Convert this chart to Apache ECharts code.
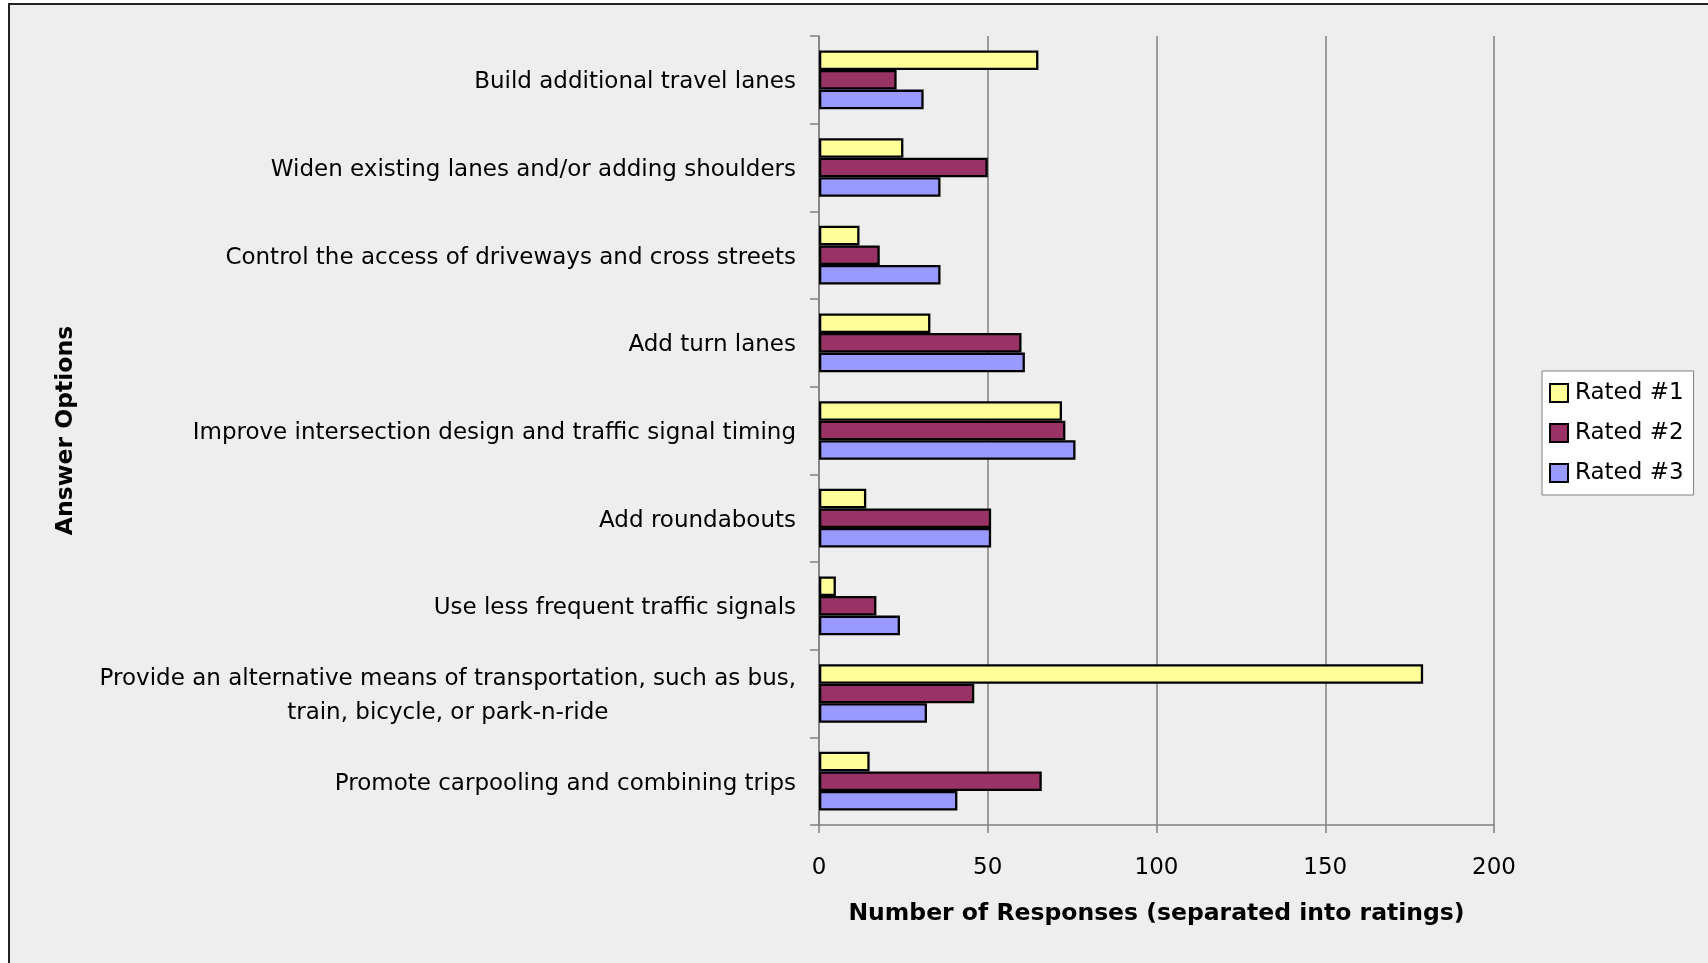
<!DOCTYPE html>
<html>
<head>
<meta charset="utf-8">
<script src="https://cdn.jsdelivr.net/npm/echarts@6/dist/echarts.min.js"></script>
<style>
  html, body { margin: 0; padding: 0; background: #fff; }
  #chart-container { width: 1708px; height: 963px; }
</style>
</head>
<body>
<div id="chart-container"></div>
<script>
// answer options, top to bottom
var categories = [
  "Build additional travel lanes",
  "Widen existing lanes and/or adding shoulders",
  "Control the access of driveways and cross streets",
  "Add turn lanes",
  "Improve intersection design and traffic signal timing",
  "Add roundabouts",
  "Use less frequent traffic signals",
  "Provide an alternative means of transportation, such as bus,\ntrain, bicycle, or park-n-ride",
  "Promote carpooling and combining trips"
];
var rated1 = [65, 25, 12, 33, 72, 14, 5, 179, 15];
var rated2 = [23, 50, 18, 60, 73, 51, 17, 46, 66];
var rated3 = [31, 36, 36, 61, 76, 51, 24, 32, 41];
var seriesNames = ["Rated #1", "Rated #2", "Rated #3"];
var xTicks = [0, 50, 100, 150, 200];

var font = "'DejaVu Sans', sans-serif";

var dom = document.getElementById("chart-container");
var myChart = echarts.init(dom, null, { renderer: "canvas" });

function barSeries(name, values, color) {
  return {
    name: name,
    type: "bar",
    data: values,
    barGap: "0%",
    barCategoryGap: "33%",
    itemStyle: { color: color, borderColor: "#000", borderWidth: 2.3 }
  };
}

var option = {
  backgroundColor: "#ffffff",
  animation: false,
  textStyle: { fontFamily: font },
  graphic: [
    {
      type: "rect",
      z: -100,
      shape: { x: 9, y: 4, width: 1720, height: 990 },
      style: { fill: "#eeeeee", stroke: "#222", lineWidth: 2 }
    }
  ],
  grid: { left: 819, right: 214, top: 36, bottom: 138, containLabel: false },
  legend: {
    orient: "vertical",
    left: 1542,
    top: 371,
    backgroundColor: "#ffffff",
    borderColor: "#808080",
    borderWidth: 1,
    borderRadius: 0,
    padding: [10, 10, 10, 7],
    itemWidth: 18,
    itemHeight: 18,
    itemGap: 16,
    icon: "rect",
    itemStyle: { borderColor: "#000", borderWidth: 2 },
    textStyle: { fontFamily: font, fontSize: 23, color: "#000", lineHeight: 24, padding: [0, 0, 0, 2] },
    data: seriesNames
  },
  xAxis: {
    type: "value",
    min: xTicks[0],
    max: xTicks[xTicks.length - 1],
    interval: xTicks[1] - xTicks[0],
    name: "Number of Responses (separated into ratings)",
    nameLocation: "middle",
    nameGap: 77,
    nameTextStyle: { fontFamily: font, fontSize: 23.5, fontWeight: "bold", color: "#000" },
    axisLine: { show: true, lineStyle: { color: "#808080", width: 1.5 } },
    axisTick: { show: true, length: 8, lineStyle: { color: "#808080", width: 1.5 } },
    axisLabel: { fontFamily: font, fontSize: 23, color: "#000", margin: 32 },
    splitLine: { show: true, lineStyle: { color: "#808080", width: 1.5 } }
  },
  yAxis: {
    type: "category",
    inverse: true,
    data: categories,
    name: "Answer Options",
    nameLocation: "middle",
    nameGap: 741,
    nameTextStyle: { fontFamily: font, fontSize: 23.5, fontWeight: "bold", color: "#000" },
    axisLine: { show: true, lineStyle: { color: "#808080", width: 1.5 } },
    axisTick: { show: true, length: 9, lineStyle: { color: "#808080", width: 1.5 } },
    axisLabel: {
      margin: 23,
      formatter: function (v) {
        return v.split("\n").map(function (s) { return "{c|" + s + "}"; }).join("\n");
      },
      rich: {
        c: { fontFamily: font, fontSize: 23, color: "#000", align: "center", lineHeight: 34, padding: [5, 0, 0, 0] }
      }
    }
  },
  series: [
    barSeries(seriesNames[0], rated1, "#ffff99"),
    barSeries(seriesNames[1], rated2, "#993366"),
    barSeries(seriesNames[2], rated3, "#9999ff")
  ]
};

myChart.setOption(option);
window.addEventListener("resize", myChart.resize);
</script>
</body>
</html>
